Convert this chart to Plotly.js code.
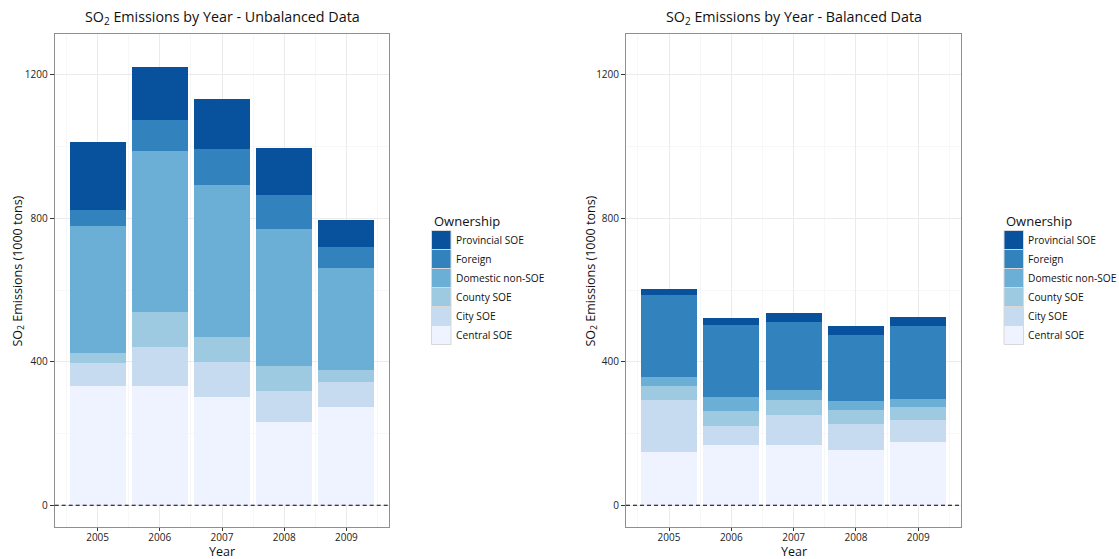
<!DOCTYPE html>
<html>
<head>
<meta charset="utf-8">
<script src="https://cdn.plot.ly/plotly-3.0.1.min.js"></script>
<style>html,body{margin:0;padding:0;background:#fff;}#chart{width:1119px;height:559px;}</style>
</head>
<body>
<div id="chart"></div>
<script>
// ---- data ----
const years = [2005, 2006, 2007, 2008, 2009];
const ownership = ["Central SOE", "City SOE", "County SOE", "Domestic non-SOE", "Foreign", "Provincial SOE"];
const colors = ["#EFF3FF", "#C6DBEF", "#9ECAE1", "#6BAED6", "#3182BD", "#08519C"];

// Unbalanced data (1000 tons)
const unbCentral    = [333, 333, 302, 232, 274];
const unbCity       = [64, 108, 97, 86, 70];
const unbCounty     = [28, 98, 70, 70, 33];
const unbDomestic   = [354, 449, 424, 383, 285];
const unbForeign    = [44, 87, 101, 95, 58];
const unbProvincial = [191, 147, 139, 130, 76];

// Balanced data (1000 tons)
const balCentral    = [149, 168, 168, 154, 176];
const balCity       = [145, 53, 84, 73, 62];
const balCounty     = [39, 42, 42, 39, 36];
const balDomestic   = [24, 39, 27, 25, 23];
const balForeign    = [229, 201, 190, 184, 203];
const balProvincial = [17, 19, 25, 25, 25];

const yTicks = [0, 400, 800, 1200];
const panelTitles = ["SO<sub>2</sub> Emissions by Year - Unbalanced Data", "SO<sub>2</sub> Emissions by Year - Balanced Data"];
const xTitle = "Year";
const yTitle = "SO<sub>2</sub> Emissions (1000 tons)";
const legendTitle = "Ownership";

const unbSeries = [unbCentral, unbCity, unbCounty, unbDomestic, unbForeign, unbProvincial];
const balSeries = [balCentral, balCity, balCounty, balDomestic, balForeign, balProvincial];

const traces = [];
unbSeries.forEach((vals, i) => {
  traces.push({type: "bar", x: years, y: vals, name: ownership[i], xaxis: "x", yaxis: "y",
    marker: {color: colors[i], line: {width: 0}}, showlegend: false});
});
balSeries.forEach((vals, i) => {
  traces.push({type: "bar", x: years, y: vals, name: ownership[i], xaxis: "x2", yaxis: "y2",
    marker: {color: colors[i], line: {width: 0}}, showlegend: false});
});

const W = 1119, H = 559;
const fontFam = "'Open Sans', 'DejaVu Sans', sans-serif";
const yDom = [(H - 527.3) / H, (H - 34) / H];
const px = v => v / W, py = v => (H - v) / H;

function xAxis(domain, anchor) {
  return {
    domain: domain, anchor: anchor, range: [2004.31, 2009.69],
    tickvals: years, ticktext: years.map(String),
    ticks: "outside", ticklen: 3, tickcolor: "#333", tickwidth: 1,
    ticklabelstandoff: -2,
    tickfont: {family: fontFam, size: 10, color: "#222"},
    showgrid: true, gridcolor: "#EBEBEB", gridwidth: 1,
    minor: {dtick: 0.5, tick0: 2004.5, showgrid: true, gridcolor: "#F7F7F7", gridwidth: 1, ticks: ""},
    showline: true, linecolor: "#8F8F8F", linewidth: 1, mirror: true, zeroline: false,
    automargin: false
  };
}
function yAxis(domain, anchor) {
  return {
    domain: domain, anchor: anchor, range: [-61.4, 1314],
    tickvals: yTicks, ticktext: yTicks.map(String),
    ticks: "outside", ticklen: 4, tickcolor: "#333", tickwidth: 1,
    tickfont: {family: fontFam, size: 10, color: "#222"},
    showgrid: true, gridcolor: "#EBEBEB", gridwidth: 1,
    minor: {dtick: 200, tick0: 0, showgrid: true, gridcolor: "#F7F7F7", gridwidth: 1, ticks: ""},
    showline: true, linecolor: "#8F8F8F", linewidth: 1, mirror: true, zeroline: false,
    automargin: false
  };
}

const shapes = [
  {type: "line", xref: "x domain", yref: "y", x0: 0, x1: 1, y0: 0, y1: 0, line: {color: "#000", width: 1.1, dash: "4px,3px"}},
  {type: "line", xref: "x2 domain", yref: "y2", x0: 0, x1: 1, y0: 0, y1: 0, line: {color: "#000", width: 1.1, dash: "4px,3px"}}
];
const annotations = [];

// panel titles & axis titles
["x", "x2"].forEach((ax, k) => {
  annotations.push({text: panelTitles[k], xref: ax + " domain", yref: "paper", x: 0.5, y: py(17.5),
    xanchor: "center", yanchor: "middle", showarrow: false, font: {family: fontFam, size: 14.3, color: "#111"}});
  annotations.push({text: xTitle, xref: ax + " domain", yref: "paper", x: 0.5, y: py(551),
    xanchor: "center", yanchor: "middle", showarrow: false, borderpad: 0, font: {family: fontFam, size: 12.5, color: "#111"}});
});
[17.5, 590.5].forEach(cx => {
  annotations.push({text: yTitle, xref: "paper", yref: "paper", x: px(cx), y: py(271), textangle: -90,
    xanchor: "center", yanchor: "middle", showarrow: false, font: {family: fontFam, size: 12.5, color: "#111"}});
});

// legends (drawn from ownership / colors, Provincial SOE on top)
[[431.5, 453.5], [1004, 1026]].forEach(([sx, tx]) => {
  annotations.push({text: legendTitle, xref: "paper", yref: "paper", x: px(sx), y: py(221),
    xanchor: "left", yanchor: "middle", showarrow: false, font: {family: fontFam, size: 13, color: "#111"}});
  const n = ownership.length;
  for (let r = 0; r < n; r++) {
    const i = n - 1 - r;
    const top = 230.5 + r * 19;
    shapes.push({type: "rect", xref: "paper", yref: "paper", x0: px(sx), x1: px(sx + 19.5), y0: py(top + 19), y1: py(top),
      fillcolor: colors[i], line: {color: "#D8D8D8", width: 1}, layer: "above"});
    annotations.push({text: ownership[i], xref: "paper", yref: "paper", x: px(tx), y: py(top + 9.5),
      xanchor: "left", yanchor: "middle", showarrow: false, font: {family: fontFam, size: 10.2, color: "#111"}});
  }
});

const layout = {
  width: W, height: H,
  margin: {l: 0, r: 0, t: 0, b: 0},
  paper_bgcolor: "#fff", plot_bgcolor: "#fff",
  barmode: "stack", bargap: 0.1, showlegend: false,
  xaxis: xAxis([px(54.7), px(389.3)], "y"),
  yaxis: yAxis(yDom, "x"),
  xaxis2: xAxis([px(626), px(961.3)], "y2"),
  yaxis2: yAxis(yDom, "x2"),
  shapes: shapes,
  annotations: annotations
};

Plotly.newPlot("chart", traces, layout, {displayModeBar: false, staticPlot: true});
</script>
</body>
</html>
